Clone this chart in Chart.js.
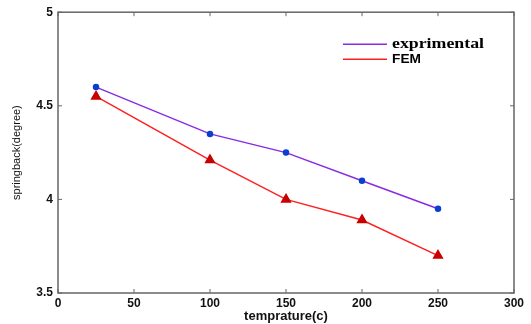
<!DOCTYPE html>
<html>
<head>
<meta charset="utf-8">
<script src="https://cdn.jsdelivr.net/npm/chart.js@4.4.0/dist/chart.umd.min.js"></script>
<style>
  html, body { margin: 0; padding: 0; background: #fff; }
  #wrap { width: 531px; height: 324px; }
</style>
</head>
<body>
<div id="wrap"><canvas id="chart" width="531" height="324"></canvas></div>
<script>
// data
const temps = [25, 100, 150, 200, 250];
const experimental = [4.60, 4.35, 4.25, 4.10, 3.95];
const fem = [4.55, 4.21, 4.00, 3.89, 3.70];
const xTicks = [0, 50, 100, 150, 200, 250, 300];
const yTicks = [3.5, 4, 4.5, 5];

const toPoints = (ys) => temps.map((t, i) => ({ x: t, y: ys[i] }));

// draw text squeezed/stretched to a given width (the original figure is stretched sideways)
function fitText(ctx, text, x, y, w) {
  const m = ctx.measureText(text).width;
  ctx.save();
  ctx.translate(x, y);
  ctx.scale(w / m, 1);
  ctx.fillText(text, 0, 0);
  ctx.restore();
}

// matlab style box with inward ticks + legend inside the axes
const boxPlugin = {
  id: 'box',
  afterDraw(chart) {
    const { ctx, chartArea: a, scales } = chart;
    ctx.save();
    ctx.strokeStyle = '#666';
    ctx.lineWidth = 1.5;
    ctx.strokeRect(a.left, a.top, a.right - a.left, a.bottom - a.top);
    ctx.lineWidth = 1;
    const len = 4;
    xTicks.forEach(v => {
      const px = scales.x.getPixelForValue(v);
      ctx.beginPath();
      ctx.moveTo(px, a.bottom); ctx.lineTo(px, a.bottom - len);
      ctx.moveTo(px, a.top); ctx.lineTo(px, a.top + len);
      ctx.stroke();
    });
    yTicks.forEach(v => {
      const py = scales.y.getPixelForValue(v);
      ctx.beginPath();
      ctx.moveTo(a.left, py); ctx.lineTo(a.left + len, py);
      ctx.moveTo(a.right, py); ctx.lineTo(a.right - len, py);
      ctx.stroke();
    });

    // legend
    const lx = a.left + 285, ly = a.top + 32;
    ctx.lineWidth = 1.5;
    ctx.strokeStyle = '#8a2be2';
    ctx.beginPath(); ctx.moveTo(lx, ly); ctx.lineTo(lx + 44, ly); ctx.stroke();
    ctx.strokeStyle = '#ff2020';
    ctx.beginPath(); ctx.moveTo(lx, ly + 15); ctx.lineTo(lx + 44, ly + 15); ctx.stroke();
    ctx.fillStyle = '#000';
    ctx.textBaseline = 'middle';
    ctx.font = 'bold 14px "Liberation Serif", serif';
    fitText(ctx, 'exprimental', lx + 49, ly, 92);
    ctx.font = 'bold 12px "Liberation Sans", Arial, sans-serif';
    fitText(ctx, 'FEM', lx + 49, ly + 15, 29);
    ctx.restore();
  }
};

const tickFont = { size: 12, weight: 'bold', family: '"Liberation Sans", Arial' };

new Chart(document.getElementById('chart'), {
  type: 'line',
  data: {
    datasets: [{
      label: 'exprimental',
      data: toPoints(experimental),
      borderColor: '#8a2be2',
      borderWidth: 1.5,
      pointStyle: 'circle',
      pointRadius: 2.5,
      pointBackgroundColor: '#0a3fd0',
      pointBorderColor: '#0a3fd0',
      fill: false,
      tension: 0
    }, {
      label: 'FEM',
      data: toPoints(fem),
      borderColor: '#ff2020',
      borderWidth: 1.5,
      pointStyle: 'triangle',
      pointRadius: 5,
      pointBackgroundColor: '#c80000',
      pointBorderColor: '#c80000',
      fill: false,
      tension: 0
    }]
  },
  options: {
    responsive: false,
    animation: false,
    layout: { padding: { left: 0, top: 12, right: 17, bottom: 0 } },
    plugins: {
      legend: { display: false },
      tooltip: { enabled: false }
    },
    scales: {
      x: {
        type: 'linear',
        min: 0, max: 300,
        afterBuildTicks: (s) => { s.ticks = xTicks.map(v => ({ value: v })); },
        afterFit: (s) => { s.height = 31; },
        grid: { display: false, drawTicks: false, tickLength: 0 },
        border: { display: false },
        ticks: { color: '#111', font: tickFont, padding: 3, maxRotation: 0 },
        title: { display: true, text: 'temprature(c)', color: '#111', padding: 0, font: { size: 13, weight: 'bold', family: '"Liberation Sans", Arial' } }
      },
      y: {
        min: 3.5, max: 5,
        afterBuildTicks: (s) => { s.ticks = yTicks.map(v => ({ value: v })); },
        afterFit: (s) => { s.width = 58; },
        grid: { display: false, drawTicks: false, tickLength: 0 },
        border: { display: false },
        ticks: { color: '#111', font: tickFont, padding: 5, callback: (v) => String(v) },
        title: { display: true, text: 'springback(degree)', color: '#111', padding: { top: 10, bottom: 0 }, font: { size: 11, family: '"Liberation Sans", Arial' } }
      }
    }
  },
  plugins: [boxPlugin]
});
</script>
</body>
</html>
